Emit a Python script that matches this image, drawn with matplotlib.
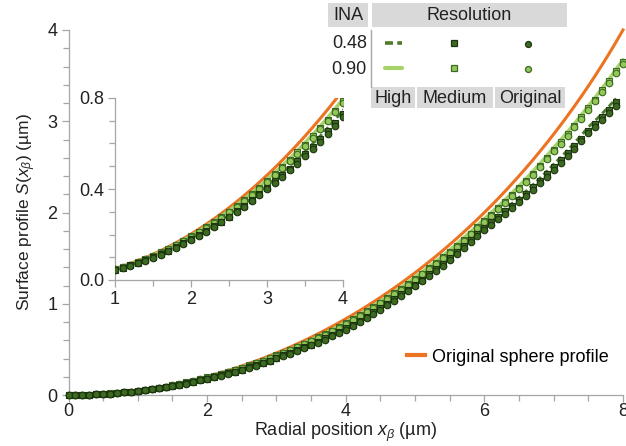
import numpy as np
import matplotlib
matplotlib.use("Agg")
import matplotlib.pyplot as plt
from matplotlib.ticker import MultipleLocator, FixedLocator, FormatStrFormatter
from matplotlib.patches import Rectangle
from matplotlib.lines import Line2D

plt.rcParams['font.family'] = ['Liberation Sans', 'DejaVu Sans']
plt.rcParams['mathtext.fontset'] = 'custom'
plt.rcParams['mathtext.rm'] = 'Liberation Sans'
plt.rcParams['mathtext.it'] = 'Liberation Sans:italic'

# ---------------- data ----------------
x_grid = np.round(np.arange(81) * 0.1, 1)

sphere = [0.0000, 0.0005, 0.0020, 0.0045, 0.0080, 0.0125, 0.0180, 0.0245, 0.0321, 0.0406,
          0.0501, 0.0607, 0.0723, 0.0849, 0.0985, 0.1131, 0.1288, 0.1456, 0.1633, 0.1822,
          0.2020, 0.2230, 0.2450, 0.2681, 0.2923, 0.3175, 0.3439, 0.3714, 0.4000, 0.4297,
          0.4606, 0.4926, 0.5258, 0.5602, 0.5957, 0.6325, 0.6705, 0.7097, 0.7501, 0.7919,
          0.8348, 0.8792, 0.9248, 0.9717, 1.0200, 1.0697, 1.1208, 1.1733, 1.2273, 1.2828,
          1.3397, 1.3983, 1.4583, 1.5200, 1.5834, 1.6484, 1.7151, 1.7836, 1.8538, 1.9260,
          2.0000, 2.0760, 2.1540, 2.2340, 2.3163, 2.4007, 2.4873, 2.5764, 2.6679, 2.7619,
          2.8586, 2.9580, 3.0603, 3.1656, 3.2739, 3.3856, 3.5008, 3.6196, 3.7422, 3.8689,
          4.0000]

ina090_high = [0.000, 0.000, 0.002, 0.004, 0.008, 0.012, 0.017, 0.023, 0.031, 0.039,
               0.048, 0.058, 0.069, 0.081, 0.094, 0.108, 0.123, 0.139, 0.157, 0.175,
               0.194, 0.214, 0.235, 0.257, 0.280, 0.304, 0.329, 0.355, 0.382, 0.411,
               0.441, 0.471, 0.502, 0.534, 0.568, 0.603, 0.639, 0.676, 0.714, 0.754,
               0.795, 0.838, 0.883, 0.929, 0.976, 1.025, 1.075, 1.126, 1.179, 1.234,
               1.290, 1.346, 1.404, 1.464, 1.525, 1.588, 1.653, 1.720, 1.788, 1.858,
               1.930, 1.998, 2.068, 2.140, 2.214, 2.291, 2.369, 2.450, 2.534, 2.620,
               2.709, 2.794, 2.882, 2.974, 3.068, 3.166, 3.261, 3.360, 3.462, 3.569,
               3.670]

ina090_medium = [0.000, 0.000, 0.002, 0.004, 0.007, 0.011, 0.017, 0.023, 0.030, 0.038,
                 0.047, 0.057, 0.068, 0.080, 0.093, 0.107, 0.122, 0.138, 0.155, 0.173,
                 0.192, 0.212, 0.232, 0.254, 0.276, 0.300, 0.325, 0.351, 0.378, 0.406,
                 0.436, 0.465, 0.496, 0.528, 0.561, 0.595, 0.631, 0.667, 0.705, 0.744,
                 0.785, 0.828, 0.872, 0.917, 0.964, 1.012, 1.062, 1.113, 1.165, 1.219,
                 1.275, 1.331, 1.388, 1.448, 1.508, 1.571, 1.635, 1.701, 1.769, 1.839,
                 1.910, 1.978, 2.047, 2.119, 2.192, 2.268, 2.346, 2.427, 2.510, 2.595,
                 2.684, 2.769, 2.857, 2.949, 3.043, 3.141, 3.237, 3.337, 3.441, 3.549,
                 3.650]

ina090_original = [0.000, 0.000, 0.002, 0.004, 0.007, 0.011, 0.016, 0.023, 0.030, 0.038,
                   0.047, 0.057, 0.068, 0.079, 0.092, 0.106, 0.120, 0.136, 0.153, 0.171,
                   0.190, 0.209, 0.229, 0.251, 0.273, 0.297, 0.321, 0.347, 0.374, 0.402,
                   0.431, 0.460, 0.491, 0.523, 0.556, 0.590, 0.626, 0.662, 0.700, 0.739,
                   0.780, 0.822, 0.866, 0.911, 0.957, 1.005, 1.054, 1.104, 1.156, 1.210,
                   1.265, 1.321, 1.378, 1.438, 1.498, 1.561, 1.625, 1.691, 1.759, 1.829,
                   1.900, 1.967, 2.036, 2.107, 2.180, 2.256, 2.333, 2.413, 2.496, 2.581,
                   2.669, 2.754, 2.842, 2.934, 3.028, 3.126, 3.221, 3.320, 3.422, 3.529,
                   3.630]

ina048_high = [0.000, 0.000, 0.002, 0.004, 0.007, 0.011, 0.016, 0.022, 0.029, 0.037,
               0.046, 0.055, 0.066, 0.077, 0.089, 0.102, 0.116, 0.132, 0.148, 0.166,
               0.184, 0.202, 0.222, 0.242, 0.264, 0.286, 0.310, 0.335, 0.360, 0.387,
               0.416, 0.443, 0.472, 0.502, 0.533, 0.565, 0.599, 0.633, 0.669, 0.706,
               0.745, 0.787, 0.831, 0.876, 0.922, 0.970, 1.019, 1.069, 1.121, 1.175,
               1.230, 1.285, 1.342, 1.401, 1.461, 1.523, 1.587, 1.653, 1.720, 1.789,
               1.860, 1.917, 1.976, 2.037, 2.100, 2.166, 2.233, 2.303, 2.376, 2.451,
               2.529, 2.604, 2.682, 2.764, 2.848, 2.936, 3.008, 3.085, 3.165, 3.249]

ina048_medium = [0.000, 0.000, 0.002, 0.004, 0.007, 0.011, 0.016, 0.022, 0.029, 0.036,
                 0.045, 0.054, 0.064, 0.075, 0.087, 0.100, 0.114, 0.129, 0.145, 0.162,
                 0.180, 0.198, 0.216, 0.236, 0.257, 0.279, 0.302, 0.326, 0.352, 0.378,
                 0.406, 0.433, 0.461, 0.490, 0.521, 0.553, 0.586, 0.620, 0.655, 0.692,
                 0.730, 0.772, 0.815, 0.859, 0.905, 0.952, 1.001, 1.051, 1.102, 1.155,
                 1.210, 1.265, 1.321, 1.380, 1.439, 1.501, 1.564, 1.629, 1.696, 1.765,
                 1.835, 1.892, 1.950, 2.011, 2.073, 2.138, 2.205, 2.275, 2.347, 2.421,
                 2.499, 2.572, 2.648, 2.728, 2.810, 2.896, 2.968, 3.045, 3.125, 3.209]

ina048_original = [0.000, 0.000, 0.002, 0.004, 0.007, 0.011, 0.016, 0.022, 0.028, 0.036,
                   0.044, 0.053, 0.063, 0.073, 0.085, 0.098, 0.111, 0.126, 0.142, 0.159,
                   0.177, 0.195, 0.213, 0.233, 0.253, 0.275, 0.298, 0.322, 0.347, 0.373,
                   0.401, 0.427, 0.454, 0.482, 0.512, 0.543, 0.575, 0.608, 0.642, 0.678,
                   0.715, 0.756, 0.799, 0.843, 0.888, 0.935, 0.983, 1.032, 1.083, 1.136,
                   1.190, 1.244, 1.300, 1.358, 1.417, 1.478, 1.541, 1.606, 1.672, 1.740,
                   1.810, 1.866, 1.924, 1.984, 2.046, 2.111, 2.177, 2.246, 2.318, 2.392,
                   2.469, 2.542, 2.618, 2.698, 2.780, 2.866, 2.936, 3.010, 3.087, 3.169]

ina_labels = ["0.48", "0.90"]
resolution_labels = ["High", "Medium", "Original"]
x_main_ticks = [0, 2, 4, 6, 8]
y_main_ticks = [0, 1, 2, 3, 4]
x_inset_ticks = [1, 2, 3, 4]
y_inset_ticks = [0.0, 0.4, 0.8]

# ---------------- styles ----------------
ORANGE = '#eb7321'
LIGHT_LINE = '#a6d46a'
DARK_DASH = '#4d7a2b'
DARK_FILL = '#3c6a21'
DARK_EDGE = '#1d3510'
LIGHT_FILL = '#93c75a'
LIGHT_EDGE = '#3c6a22'
SPINE = '#a6a6a6'
TXT = '#222222'
CELL = '#d9d9d9'
MS = 4.7
FS = 13

W, H = 626, 446
fig = plt.figure(figsize=(W / 100, H / 100), dpi=100)


def fx(px):
    return px / W


def fy(py):
    return 1 - py / H


def draw_series(ax, clip):
    x81 = x_grid
    x80 = x_grid[:80]
    ax.plot(x81, sphere, color=ORANGE, lw=2.2, zorder=2, clip_on=clip)
    ax.plot(x81, ina090_high, color=LIGHT_LINE, lw=2.6, zorder=3, clip_on=clip)
    ax.plot(x80, ina048_high, color=DARK_DASH, lw=2.0, ls=(0, (2.2, 1.2)), zorder=3, clip_on=clip)
    ax.plot(x81, ina090_medium, ls='none', marker='s', ms=MS - 0.6, mfc=LIGHT_FILL,
            mec=LIGHT_EDGE, mew=0.8, zorder=4, clip_on=clip)
    ax.plot(x81, ina090_original, ls='none', marker='o', ms=MS, mfc=LIGHT_FILL,
            mec=LIGHT_EDGE, mew=0.8, zorder=4, clip_on=clip)
    ax.plot(x80, ina048_medium, ls='none', marker='s', ms=MS - 0.6, mfc=DARK_FILL,
            mec=DARK_EDGE, mew=0.8, zorder=5, clip_on=clip)
    ax.plot(x80, ina048_original, ls='none', marker='o', ms=MS, mfc=DARK_FILL,
            mec=DARK_EDGE, mew=0.8, zorder=5, clip_on=clip)


def style_axes(ax):
    for s in ['top', 'right']:
        ax.spines[s].set_visible(False)
    for s in ['left', 'bottom']:
        ax.spines[s].set_color(SPINE)
        ax.spines[s].set_linewidth(0.9)
    ax.tick_params(which='both', direction='out', color=SPINE, width=0.9,
                   labelsize=FS, labelcolor=TXT)
    ax.tick_params(which='major', length=5, pad=3)
    ax.tick_params(which='minor', length=4)


# ---------------- main axes ----------------
ax = fig.add_axes([fx(68.5), fy(395), fx(623) - fx(68.5), fy(30) - fy(395)])
draw_series(ax, clip=False)
ax.set_xlim(0, 8)
ax.set_ylim(0, 4)
ax.xaxis.set_major_locator(FixedLocator(x_main_ticks))
ax.xaxis.set_minor_locator(MultipleLocator(0.5))
ax.yaxis.set_major_locator(FixedLocator(y_main_ticks))
ax.yaxis.set_minor_locator(MultipleLocator(0.2))
style_axes(ax)
ax.tick_params(axis='x', which='major', pad=1)
ax.set_xlabel(r'Radial position $x_{\beta}$ (µm)', fontsize=FS, color=TXT, labelpad=0)
ax.set_ylabel(r'Surface profile $S$($x_{\beta}$) (µm)', fontsize=12.5, color=TXT, labelpad=7)

leg_handle = Line2D([], [], color=ORANGE, lw=3)
ax.legend(handles=[leg_handle], labels=['Original sphere profile'], loc='center left',
          bbox_to_anchor=(fx(407), fy(357)), bbox_transform=fig.transFigure,
          frameon=False, fontsize=FS, handlelength=1.0, handletextpad=0.4,
          borderaxespad=0, borderpad=0)

# ---------------- inset ----------------
axi = fig.add_axes([fx(115), fy(280), fx(343) - fx(115), fy(98) - fy(280)])
axi.set_facecolor('white')
draw_series(axi, clip=True)
axi.set_xlim(1, 4)
axi.set_ylim(0, 0.8)
axi.xaxis.set_major_locator(FixedLocator(x_inset_ticks))
axi.xaxis.set_minor_locator(MultipleLocator(0.5))
axi.yaxis.set_major_locator(FixedLocator(y_inset_ticks))
axi.yaxis.set_minor_locator(MultipleLocator(0.1))
axi.yaxis.set_major_formatter(FormatStrFormatter('%.1f'))
style_axes(axi)

# ---------------- table legend ----------------
def cell(x0, y0, x1, y1, text):
    fig.add_artist(Rectangle((fx(x0), fy(y1)), fx(x1) - fx(x0), fy(y0) - fy(y1),
                             transform=fig.transFigure, facecolor=CELL, edgecolor='none', zorder=10))
    fig.text(fx((x0 + x1) / 2), fy((y0 + y1) / 2 + 1), text, ha='center', va='center',
             fontsize=FS, color=TXT, zorder=11)


cell(328, 3, 368, 27, 'INA')
cell(372, 3, 567, 27, 'Resolution')
res_cells = [(371, 415), (417, 493), (495, 565)]
for (a, b), lab in zip(res_cells, resolution_labels):
    cell(a, 87, b, 108, lab)

fig.add_artist(Line2D([fx(370.5), fx(370.5)], [fy(30), fy(87)], transform=fig.transFigure,
                      color=SPINE, lw=1.0, zorder=10))
row_y = [43, 68]
for lab, yy in zip(ina_labels, row_y):
    fig.text(fx(367), fy(yy + 1), lab, ha='right', va='center', fontsize=FS, color=TXT, zorder=11)

# row 0.48
fig.add_artist(Line2D([fx(385), fx(402)], [fy(43), fy(43)], transform=fig.transFigure,
                      color=DARK_DASH, lw=2.6, ls=(0, (2.2, 1.2)), zorder=11))
fig.add_artist(Line2D([fx(454)], [fy(43)], transform=fig.transFigure, ls='none', marker='s',
                      ms=4.3, mfc=DARK_FILL, mec=DARK_EDGE, mew=0.9, zorder=11))
fig.add_artist(Line2D([fx(528)], [fy(44)], transform=fig.transFigure, ls='none', marker='o',
                      ms=4.3, mfc=DARK_FILL, mec=DARK_EDGE, mew=0.9, zorder=11))
# row 0.90
fig.add_artist(Line2D([fx(385), fx(402)], [fy(68), fy(68)], transform=fig.transFigure,
                      color=LIGHT_LINE, lw=3.0, solid_capstyle='round', zorder=11))
fig.add_artist(Line2D([fx(454)], [fy(68)], transform=fig.transFigure, ls='none', marker='s',
                      ms=4.3, mfc=LIGHT_FILL, mec=LIGHT_EDGE, mew=0.9, zorder=11))
fig.add_artist(Line2D([fx(528)], [fy(69)], transform=fig.transFigure, ls='none', marker='o',
                      ms=4.3, mfc=LIGHT_FILL, mec=LIGHT_EDGE, mew=0.9, zorder=11))

fig.savefig('out.png', dpi=100)
